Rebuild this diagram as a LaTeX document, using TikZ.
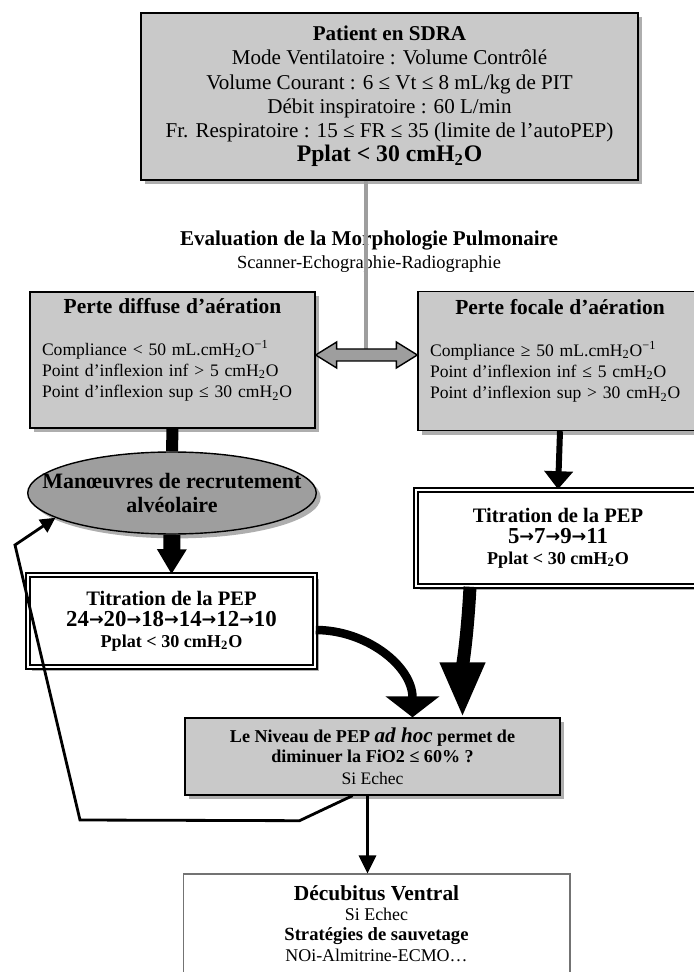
\documentclass[tikz,border=0pt]{standalone}
\usepackage{fontspec}
\setmainfont{Liberation Serif}
\newfontfamily\arrowfont{DejaVu Sans}
\usetikzlibrary{arrows.meta,shapes.geometric,shadows,calc}

\definecolor{boxgray}{gray}{0.79}
\definecolor{ovalgray}{gray}{0.62}
\definecolor{linkgray}{gray}{0.62}

\newcommand{\cmh}{cmH\textsubscript{2}O}
\newcommand{\nxt}{{\arrowfont\bfseries\fontsize{10}{10}\selectfont\raisebox{0.5pt}{→}}}

\begin{document}
\begin{tikzpicture}[x=0.02cm,y=-0.02cm,
  shade/.style={drop shadow={shadow xshift=2.5pt,shadow yshift=-2.5pt,fill=black!70,opacity=0.45}},
  graybox/.style={draw=black,line width=0.8pt,fill=boxgray,shade,align=center,inner sep=0pt},
  lungbox/.style={graybox,align=left,inner xsep=0.24cm,font=\fontsize{10}{12}\selectfont},
  pepbox/.style={draw=black,fill=white,double=white,double distance=1.6pt,line width=0.9pt,shade,align=center,inner sep=0pt},
  oval/.style={ellipse,draw=black,line width=0.8pt,fill=ovalgray,shade,align=center,inner xsep=-0.55cm,inner ysep=0pt},
  endbox/.style={draw=black!55,line width=0.6pt,fill=white,align=center,inner sep=0pt}
]
\useasboundingbox (0,0) rectangle (693,972);

% boxes
\node[graybox,minimum width=9.94cm,minimum height=3.34cm,font=\fontsize{12}{13.8}\selectfont] (sdra) at (389.5,96.5)
  {{\bfseries Patient en SDRA}\\
   Mode Ventilatoire : Volume Contrôlé\\
   Volume Courant : 6 ≤ Vt ≤ 8 mL/kg de PIT\\
   Débit inspiratoire : 60 L/min\\
   Fr. Respiratoire : 15 ≤ FR ≤ 35 (limite de l’autoPEP)\\
   {\fontsize{13.5}{16}\selectfont\bfseries Pplat < 30 \cmh}};

\node[align=center,font=\fontsize{12}{12}\selectfont] (evalu) at (369,252)
  {\textbf{Evaluation de la Morphologie Pulmonaire}\\[1pt]
   {\fontsize{10.5}{10.5}\selectfont Scanner-Echographie-Radiographie}};

\node[lungbox,minimum width=5.7cm,minimum height=2.72cm,text width=5.22cm] (ldif) at (172.5,360)
  {\makebox[\linewidth]{\fontsize{12.2}{13}\selectfont\bfseries Perte diffuse d’aération}\\[12pt]
   Compliance < 50 mL.cmH\textsubscript{2}O\textsuperscript{−1}\\
   Point d’inflexion inf > 5 \cmh\\
   Point d’inflexion sup ≤ 30 \cmh\rule[-14pt]{0pt}{14pt}};

\node[lungbox,minimum width=5.68cm,minimum height=2.78cm,text width=5.2cm] (rfoc) at (560,361)
  {\makebox[\linewidth]{\fontsize{12.2}{13}\selectfont\bfseries Perte focale d’aération}\\[12pt]
   Compliance ≥ 50 mL.cmH\textsubscript{2}O\textsuperscript{−1}\\
   Point d’inflexion inf ≤ 5 \cmh\\
   Point d’inflexion sup > 30 \cmh\rule[-14pt]{0pt}{14pt}};

\node[oval,minimum width=5.7cm,minimum height=1.64cm,font=\fontsize{12.5}{13.6}\selectfont\bfseries] (recru) at (172,493)
  {Manœuvres de recrutement\\alvéolaire};

\node[pepbox,minimum width=5.74cm,minimum height=1.84cm,font=\bfseries] (ltit) at (171.5,621)
  {{\fontsize{11.7}{13}\selectfont Titration de la PEP}\\
   {\fontsize{13}{14}\selectfont 24\nxt20\nxt18\nxt14\nxt12\nxt10}\\
   {\fontsize{10.3}{11}\selectfont Pplat < 30 \cmh}};

\node[pepbox,minimum width=5.68cm,minimum height=1.92cm,font=\bfseries] (rtit) at (558,538)
  {{\fontsize{11.7}{13}\selectfont Titration de la PEP}\\
   {\fontsize{13}{14}\selectfont 5\nxt7\nxt9\nxt11}\\
   {\fontsize{10.3}{11}\selectfont Pplat < 30 \cmh}};

\node[graybox,minimum width=7.5cm,minimum height=1.54cm,font=\fontsize{10.3}{11.5}\selectfont] (dec) at (372.5,756.5)
  {\textbf{Le Niveau de PEP \textit{\fontsize{12}{11}\selectfont ad hoc} permet de}\\
   \textbf{diminuer la FiO2 ≤ 60\% ?}\\[1pt]
   {\fontsize{10}{10}\selectfont Si Echec}};

\node[endbox,minimum width=7.74cm,minimum height=2.04cm,font=\fontsize{10.2}{11.6}\selectfont] (decub) at (376.5,925)
  {{\fontsize{12.2}{12}\selectfont\bfseries Décubitus Ventral}\\
   Si Echec\\
   {\fontsize{10.6}{11.6}\selectfont\bfseries Stratégies de sauvetage}\\
   NOi-Almitrine-ECMO…\rule[-2pt]{0pt}{2pt}};

% links
\coordinate (junc) at (366,355);
\draw[linkgray,line width=2.6pt] (sdra.south -| junc) -- (junc);
\draw[fill=linkgray,line width=0.8pt] (ldif.east |- junc) -- ++(21,-13) -- ++(0,7)
  -- ($(rfoc.west |- junc)+(-21,-6)$) -- ++(0,-7) -- (rfoc.west |- junc) -- ++(-21,13)
  -- ++(0,-7) -- ($(ldif.east |- junc)+(21,6)$) -- ++(0,7) -- cycle;

\draw[line width=0.24cm] (ldif.south) -- (recru.north);
\draw[line width=0.34cm,-{Triangle[length=0.5cm,width=0.56cm]}] (recru.south) -- (ltit.north);
\draw[line width=0.12cm,-{Triangle[length=0.36cm,width=0.56cm]}] (rfoc.south) -- (rtit.north);

\draw[line width=0.17cm,-{Triangle[length=0.42cm,width=1.06cm]}]
  ($(ltit.east)+(0,9)$) to[out=0,in=90] ($(dec.north)+(40,0)$);
\draw[line width=0.26cm,-{Triangle[length=1.1cm,width=0.84cm]}]
  ($(rtit.south)+(-88,0)$) to[out=-93,in=90] ($(dec.north)+(90,0)$);

\coordinate (fbl) at (80,820);
\coordinate (fbt) at (15,545);
\draw[line width=1.6pt,-{Triangle[length=0.3cm,width=0.3cm]}]
  ($(dec.south)+(-20,0)$) -- ++(-53,25) -- (fbl) -- (fbt) -- (recru.192);

\draw[line width=1.6pt,-{Triangle[length=0.36cm,width=0.34cm]}] ($(dec.south)+(-5,0)$) -- ($(decub.north)+(-9,0)$);
\end{tikzpicture}
\end{document}
